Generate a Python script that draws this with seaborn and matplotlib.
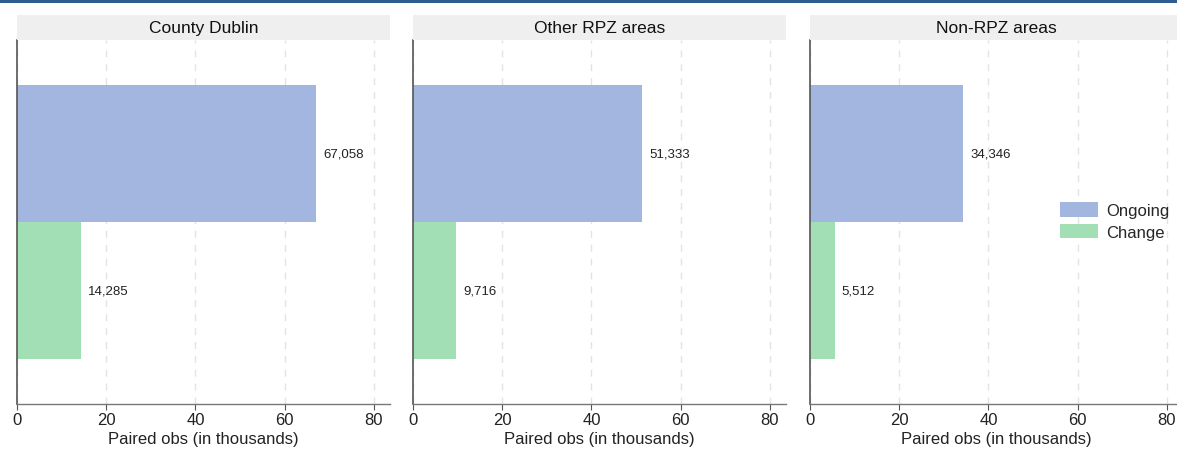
import pandas as pd
import seaborn as sns
import matplotlib.pyplot as plt
from matplotlib.patches import Rectangle, Patch

# Data
regions = ["County Dublin", "Other RPZ areas", "Non-RPZ areas"]
groups = ["Ongoing", "Change"]
ongoing = [67058, 51333, 34346]
change = [14285, 9716, 5512]
xticks = [0, 20, 40, 60, 80]

palette = {"Ongoing": "#a3b6e0", "Change": "#a2dfb4"}

# Long table: one row per region x group
rows = []
for r, o, c in zip(regions, ongoing, change):
    rows.append({"region": r, "group": "Ongoing", "count": o})
    rows.append({"region": r, "group": "Change", "count": c})
df = pd.DataFrame(rows)
df["thousands"] = df["count"] / 1000

sns.set_style("white")
plt.rcParams["font.family"] = ["Liberation Sans", "DejaVu Sans"]

W, H = 1177, 452
fig = plt.figure(figsize=(W / 100, H / 100), dpi=100)

# thin dark band along the top edge
fig.patches.append(Rectangle((0, 1 - 4 / H), 1, 4 / H, transform=fig.transFigure,
                             facecolor="#2f5c91", edgecolor="none"))

lefts = [17, 413, 810]
ax_w = 373
ax_top, ax_bot = 41, 405
strip_top = 16

for left, reg in zip(lefts, regions):
    ax = fig.add_axes([left / W, 1 - ax_bot / H, ax_w / W, (ax_bot - ax_top) / H])
    sub = df[df["region"] == reg]
    sns.barplot(data=sub, x="thousands", y="group", hue="group", hue_order=groups,
                order=groups, palette=palette, width=1, legend=False, ax=ax,
                orient="h", edgecolor="none", linewidth=0, saturation=1)

    for cont, grp in zip(ax.containers, groups):
        val = sub.loc[sub["group"] == grp, "count"].iloc[0]
        ax.bar_label(cont, labels=[f"{val:,}"], padding=5, fontsize=9.5, color="#222222")

    ax.set_xlim(0, 83.6)
    ax.set_ylim(1.83, -0.83)
    ax.set_xticks(xticks)
    ax.set_yticks([])
    ax.set_ylabel("")
    ax.set_xlabel("Paired obs (in thousands)", fontsize=12, color="#222222", labelpad=3)
    ax.tick_params(axis="x", labelsize=12, length=4, width=0.8, color="#555555",
                   labelcolor="#222222", pad=2, bottom=True)
    ax.grid(axis="x", color="#e3e3e3", linestyle=(0, (5, 5)), linewidth=1)
    ax.set_axisbelow(True)
    for s in ["top", "right"]:
        ax.spines[s].set_visible(False)
    ax.spines["left"].set_color("#555555")
    ax.spines["bottom"].set_color("#777777")
    ax.spines["left"].set_linewidth(1.2)
    ax.spines["bottom"].set_linewidth(1)

    # facet title strip
    sax = fig.add_axes([left / W, 1 - ax_top / H, ax_w / W, (ax_top - strip_top) / H])
    sax.set_facecolor("#efefef")
    sax.set_xticks([])
    sax.set_yticks([])
    for s in sax.spines.values():
        s.set_visible(False)
    sax.text(0.5, 0.5, reg, ha="center", va="center", fontsize=12.5,
             color="#111111", transform=sax.transAxes)

handles = [Patch(facecolor=palette[g], edgecolor="none", label=g) for g in groups]
fig.legend(handles=handles, loc="center left", bbox_to_anchor=(1048 / W, 1 - 222 / H),
           frameon=False, fontsize=12, handlelength=2.3, handleheight=1.0,
           handletextpad=0.5, labelspacing=0.3, borderpad=0.2)

fig.savefig("out.png", dpi=100)
